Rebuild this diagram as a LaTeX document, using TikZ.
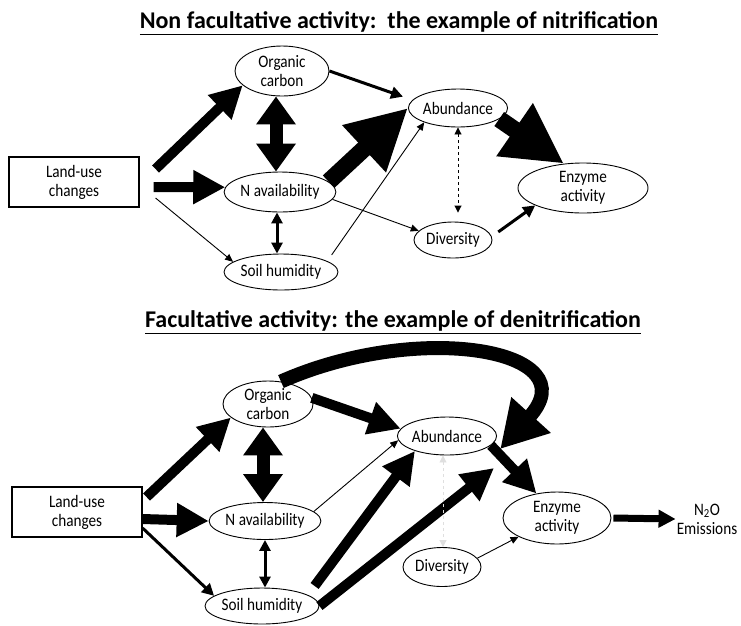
\documentclass[tikz,border=0pt]{standalone}
\usepackage{fontspec}
\setmainfont{Carlito}[FakeStretch=0.87]
\newfontfamily\headfont{Carlito}
\usetikzlibrary{shapes.geometric,arrows.meta}

\tikzset{
    box/.style={draw,line width=1.1pt,minimum width=130pt,minimum height=50pt,align=center},
    bub/.style={draw,ellipse,line width=0.9pt,inner sep=0pt,align=center},
    heading/.style={font=\headfont\fontsize{24}{29}\selectfont\bfseries},
    thinarrow/.style={line width=0.9pt,-{Triangle[length=8pt,width=7pt]}},
    midarrow/.style={line width=3pt,-{Triangle[length=12pt,width=12pt]}},
    bigarrow/.style={line width=10pt,-{Triangle[length=32pt,width=32pt]}},
    fatarrow/.style={line width=17pt,-{Triangle[length=60pt,width=60pt]}},
    dblarrow/.style={line width=13pt,>={Triangle[length=28pt,width=38pt]},<->},
    middbl/.style={line width=3pt,>={Triangle[length=11pt,width=11pt]},<->},
    dashdbl/.style={line width=0.9pt,dashed,>={Triangle[length=7pt,width=7pt]},<->}
}

\begin{document}
\begin{tikzpicture}[x=1pt,y=-1pt,font=\fontsize{17.5}{19}\selectfont]
    \useasboundingbox (0,0) rectangle (741,625);

    \node[heading] (t1) at (399,23) {\underline{Non facultative activity:\ \ the example of nitrification}};
    \node[box] (lu1) at (74,182) {Land-use\\changes};
    \node[bub,minimum width=94pt,minimum height=50pt] (oc1) at (282,71) {Organic\\carbon};
    \node[bub,minimum width=102pt,minimum height=40pt] (na1) at (280,192) {N availability};
    \node[bub,minimum width=97pt,minimum height=36pt] (sh1) at (281,272) {Soil humidity};
    \node[bub,minimum width=91pt,minimum height=38pt] (ab1) at (458,108) {Abundance};
    \node[bub,minimum width=78pt,minimum height=36pt] (dv1) at (453,240) {Diversity};
    \node[bub,minimum width=130pt,minimum height=50pt] (en1) at (583,188) {Enzyme\\activity};

    \draw[bigarrow] ([shift={(16,-13)}]lu1.east) -- (oc1.200);
    \draw[bigarrow] ([shift={(14,5)}]lu1.east) -- (na1.175);
    \draw[thinarrow] ([shift={(16,16)}]lu1.east) -- (sh1.168);
    \draw[dblarrow] ([xshift=-6pt]oc1.south) -- ([xshift=-4pt]na1.north);
    \draw[middbl] ([xshift=-3pt]na1.south) -- ([xshift=-4pt]sh1.north);
    \draw[midarrow,shorten >=10pt] (oc1.east) -- (ab1.170);
    \draw[fatarrow] (na1.12) -- (ab1.west);
    \draw[thinarrow] ([shift={(10,-4)}]sh1.north east) -- (ab1.203);
    \draw[thinarrow] (na1.352) -- (dv1.165);
    \draw[dashdbl,shorten >=9pt] (ab1.south) -- ([xshift=5pt]dv1.north);
    \draw[fatarrow] (ab1.345) -- (en1.128);
    \draw[midarrow,shorten <=8pt] (dv1.5) -- (en1.200);

    \node[heading] (t2) at (393,322) {\underline{Facultative activity: the example of denitrification}};
    \node[box] (lu2) at (77,512) {Land-use\\changes};
    \node[bub,minimum width=90pt,minimum height=46pt] (oc2) at (268,404) {Organic\\carbon};
    \node[bub,minimum width=92pt,minimum height=37pt] (na2) at (265,521) {N availability};
    \node[bub,minimum width=100pt,minimum height=36pt] (sh2) at (262,606) {Soil humidity};
    \node[bub,minimum width=84pt,minimum height=38pt] (ab2) at (447,436) {Abundance};
    \node[bub,minimum width=78pt,minimum height=39pt] (dv2) at (442,567) {Diversity};
    \node[bub,minimum width=108pt,minimum height=52pt] (en2) at (557,518) {Enzyme\\activity};
    \node[inner sep=1pt,align=center] (n2o) at (707,519) {N\textsubscript{2}O\\Emissions};
    \coordinate (hum) at (494,468);

    \draw[line width=14pt,-{Triangle[length=46pt,width=50pt]}] (oc2.60) .. controls (420,320) and (590,350) .. ([shift={(12,2)}]ab2.345);
    \draw[bigarrow] ([shift={(4,-15)}]lu2.east) -- (oc2.200);
    \draw[bigarrow] ([shift={(0,7)}]lu2.east) -- (na2.west);
    \draw[midarrow] ([shift={(0,16)}]lu2.east) -- (sh2.168);
    \draw[dblarrow] ([xshift=-5pt]oc2.south) -- ([xshift=-2pt]na2.north);
    \draw[middbl] (na2.south) -- ([xshift=3pt]sh2.north);
    \draw[bigarrow] (oc2.8) -- (ab2.171);
    \draw[thinarrow] (na2.11) -- (ab2.185);
    \draw[bigarrow] ([shift={(12,-7)}]sh2.north east) -- (ab2.205);
    \draw[bigarrow] (sh2.east) -- (hum);
    \draw[dashdbl,gray!25] ([xshift=-4pt]ab2.south) -- ([xshift=1pt]dv2.north);
    \draw[bigarrow] (ab2.348) -- (en2.130);
    \draw[thinarrow] (dv2.14) -- (en2.206);
    \draw[line width=7pt,-{Triangle[length=17pt,width=17pt]}] ([xshift=2pt]en2.east) -- (n2o.west);
\end{tikzpicture}
\end{document}
